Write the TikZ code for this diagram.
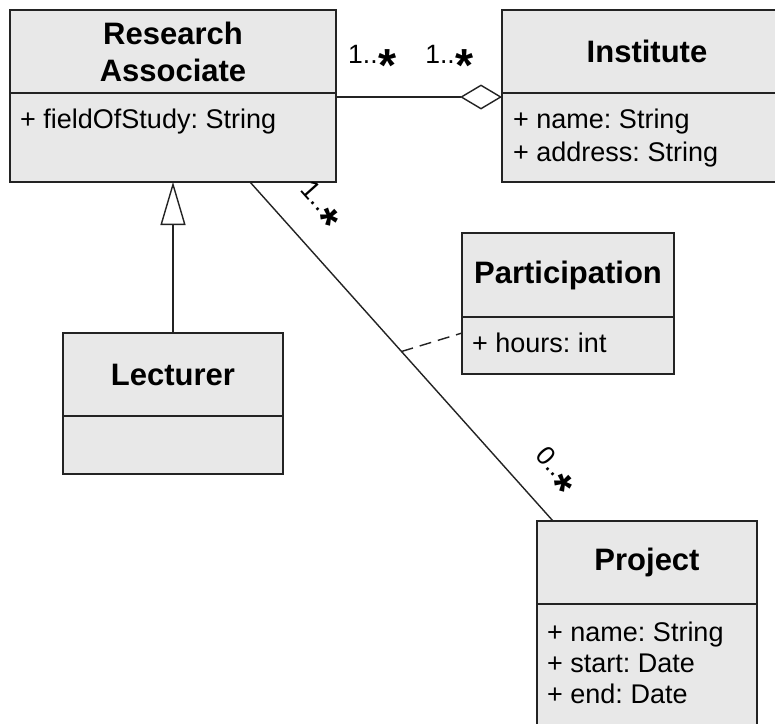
\documentclass[tikz,border=0pt]{standalone}
\usepackage{fontspec}
\setmainfont{Liberation Sans}
\usepackage{graphicx}
\usetikzlibrary{arrows.meta, positioning, calc}
\definecolor{boxgray}{RGB}{232,232,232}
\definecolor{lineclr}{RGB}{35,35,35}
\newcommand{\manystar}{\kern1pt\raisebox{-0.7em}{\scalebox{1.75}{\bfseries *}}}
\frenchspacing

\tikzset{
  classhead/.style={draw=lineclr, fill=boxgray, line width=1.8pt, anchor=north west,
    inner sep=0pt, outer sep=0pt, align=center, minimum height=83pt,
    font=\fontsize{31}{37}\selectfont\bfseries},
  classbody/.style={draw=lineclr, fill=boxgray, line width=1.8pt, anchor=north west,
    inner sep=0pt, outer sep=0pt},
  attr/.style={anchor=base west, inner sep=0pt, font=\fontsize{27}{32}\selectfont},
  mult/.style={inner sep=0pt, font=\fontsize{26.5}{30}\selectfont},
  conn/.style={draw=lineclr, line width=1.4pt},
}

\begin{document}
\begin{tikzpicture}[x=1pt, y=-1pt]
  \useasboundingbox[fill=white] (0,0) rectangle (775,723);

  % Research Associate
  \node[classhead, minimum width=326pt] (ra-head) at (10,10) {Research\\Associate};
  \node[classbody, minimum width=326pt, minimum height=89pt] (ra-body) at (ra-head.south west) {};
  \node[attr] (ra-a1) at ($(ra-body.north west)+(10,35)$) {+ fieldOfStudy: String};

  % Institute
  \node[classhead, minimum width=290pt] (inst-head) at (502,10) {Institute};
  \node[classbody, minimum width=290pt, minimum height=89pt] (inst-body) at (inst-head.south west) {};
  \node[attr] (inst-a1) at ($(inst-body.north west)+(11,35)$) {+ name: String};
  \node[attr] (inst-a2) at ($(inst-body.north west)+(11,68)$) {+ address: String};

  % Participation
  \node[classhead, minimum width=212pt, minimum height=84pt] (part-head) at (462,233) {Participation};
  \node[classbody, minimum width=212pt, minimum height=57pt] (part-body) at (part-head.south west) {};
  \node[attr] (part-a1) at ($(part-body.north west)+(10,35)$) {+ hours: int};

  % Lecturer
  \node[classhead, minimum width=220pt] (lect-head) at (63,333) {Lecturer};
  \node[classbody, minimum width=220pt, minimum height=58pt] (lect-body) at (lect-head.south west) {};

  % Project
  \node[classhead, minimum width=220pt] (proj-head) at (537,521) {Project};
  \node[classbody, minimum width=220pt, minimum height=140pt] (proj-body) at (proj-head.south west) {};
  \node[attr] (proj-a1) at ($(proj-body.north west)+(10,37)$) {+ name: String};
  \node[attr] (proj-a2) at ($(proj-body.north west)+(10,68)$) {+ start: Date};
  \node[attr] (proj-a3) at ($(proj-body.north west)+(10,99)$) {+ end: Date};

  % aggregation
  \coordinate (agg-start) at ($(ra-body.north east)+(0,4)$);
  \coordinate (agg-end) at (agg-start -| inst-body.west);
  \draw[conn, -{Diamond[open, fill=white, length=42pt, width=25pt, line width=1.4pt]}] (agg-start) -- (agg-end);
  \node[mult, anchor=south west] (agg-m1) at ($(agg-start)+(12,-15)$) {1..\manystar};
  \node[mult, anchor=south east] (agg-m2) at ($(agg-end)+(-28,-15)$) {1..\manystar};

  % generalization
  \draw[conn, -{Triangle[open, fill=white, length=43pt, width=25pt, line width=1.4pt]}]
    (lect-head.north) -- (lect-head.north |- ra-body.south);

  % association with class
  \coordinate (assoc-start) at ($(ra-body.south west)+(240,0)$);
  \coordinate (assoc-end) at ($(proj-head.north west)+(16,0)$);
  \draw[conn] (assoc-start) -- coordinate[pos=0.5] (assoc-mid)
    node[mult, pos=0.14, sloped, above=12pt] (assoc-m1) {1..\manystar}
    node[mult, pos=0.92, sloped, above=10pt] (assoc-m2) {0..\manystar}
    (assoc-end);
  \draw[conn, dash pattern=on 12pt off 7pt] (assoc-mid) -- ($(part-body.north west)+(0,16)$);
\end{tikzpicture}
\end{document}
